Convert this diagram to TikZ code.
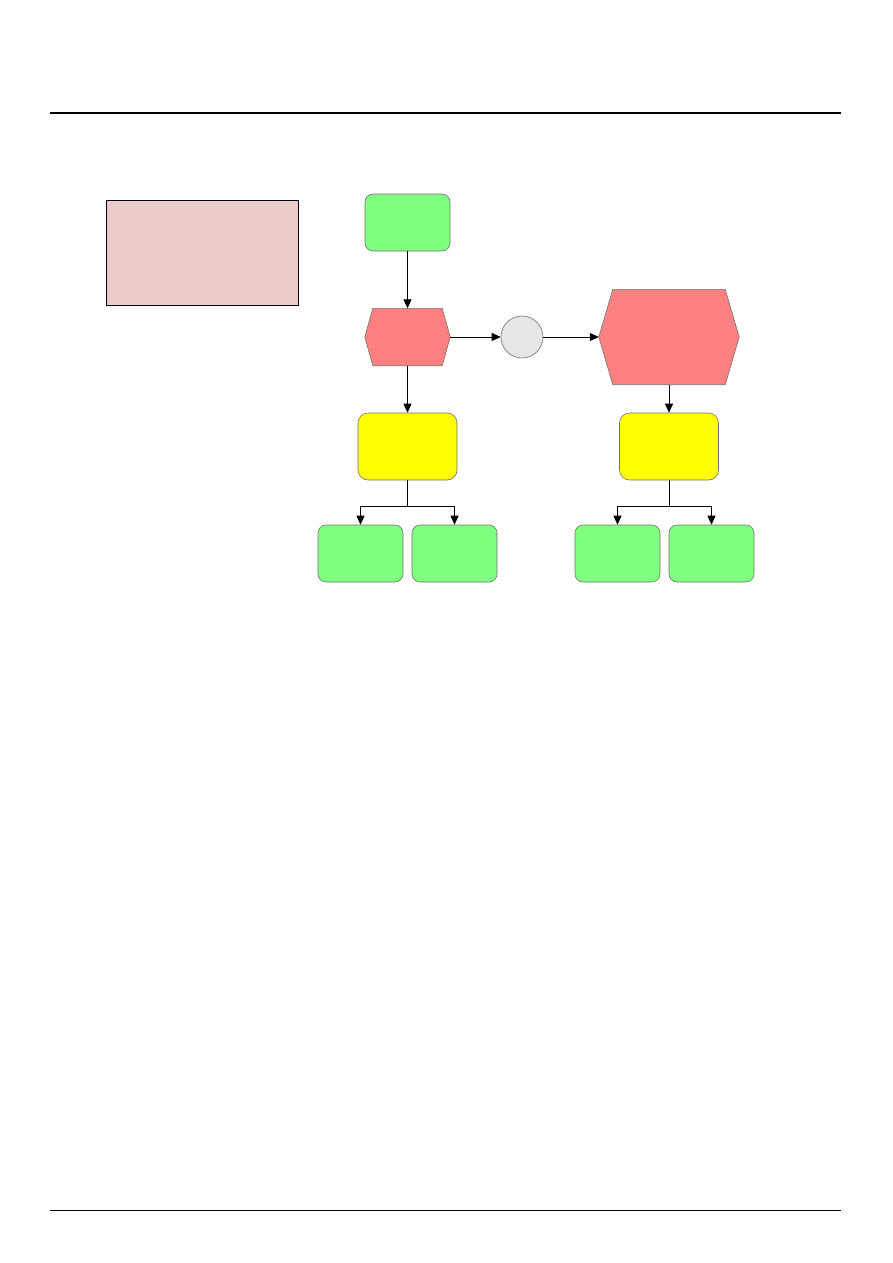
\documentclass[tikz,border=0pt]{standalone}
\usetikzlibrary{arrows.meta}
\definecolor{gfill}{HTML}{80FF80}
\definecolor{yfill}{HTML}{FFFF00}
\definecolor{rfill}{HTML}{FF8080}
\definecolor{cfill}{HTML}{E6E6E6}
\definecolor{pfill}{HTML}{ECCCCA}
\definecolor{edge}{HTML}{707070}
\begin{document}
\begin{tikzpicture}[x=1pt,y=-1pt,
  box/.style={draw=edge,line width=0.6pt,rounded corners=8pt,inner sep=0pt,minimum width=85pt,minimum height=57pt,fill=gfill},
  ybox/.style={box,fill=yfill,minimum width=99pt,minimum height=67pt,rounded corners=10pt},
  anchorbox/.style={inner sep=0pt,draw=none},
  hexdraw/.style={draw=edge,line width=0.6pt,fill=rfill},
  conn/.style={line width=0.8pt,-{Triangle[length=9pt,width=8pt]}},
  plain/.style={line width=0.8pt}]
\useasboundingbox (0,0) rectangle (893,1263);
% header/footer rules
\coordinate (tl) at (50,113); \coordinate (tr) at (841,113);
\coordinate (bl) at (50,1210); \coordinate (br) at (841,1210);
\draw[line width=2pt] (tl) -- (tr);
\draw[line width=1pt] (bl) -- (br);
% pink box
\node[draw=black,line width=1pt,fill=pfill,minimum width=192pt,minimum height=105pt,inner sep=0pt] (pink) at (202,252.5) {};
% top green
\node[box] (top) at (407.5,222.5) {};
% small hexagon
\node[anchorbox,minimum width=85pt,minimum height=57pt] (hexa) at (407.5,337) {};
\draw[hexdraw] (hexa.west) -- ([xshift=8pt]hexa.north west) -- ([xshift=-8pt]hexa.north east) -- (hexa.east) -- ([xshift=-8pt]hexa.south east) -- ([xshift=8pt]hexa.south west) -- cycle;
% circle
\node[circle,draw=edge,line width=0.6pt,fill=cfill,minimum size=42pt,inner sep=0pt] (circ) at (522,337) {};
% big hexagon
\node[anchorbox,minimum width=140pt,minimum height=95pt] (hexb) at (669,337) {};
\draw[hexdraw] (hexb.west) -- ([xshift=14pt]hexb.north west) -- ([xshift=-14pt]hexb.north east) -- (hexb.east) -- ([xshift=-14pt]hexb.south east) -- ([xshift=14pt]hexb.south west) -- cycle;
% yellow boxes
\node[ybox] (yl) at (407.5,446.5) {};
\node[ybox] (yr) at (669,446.5) {};
% bottom greens
\node[box] (g1) at (360.5,553.5) {};
\node[box] (g2) at (454.5,553.5) {};
\node[box] (g3) at (617.5,553.5) {};
\node[box] (g4) at (711.5,553.5) {};
% connectors
\draw[conn] (top.south) -- (hexa.north);
\draw[conn] (hexa.east) -- (circ.west);
\draw[conn] (circ.east) -- (hexb.west);
\draw[conn] (hexa.south) -- (yl.north);
\draw[conn] (hexb.south) -- (yr.north);
\coordinate (jl) at (407.5,506);
\coordinate (jr) at (669,506);
\draw[plain] (yl.south) -- (jl);
\draw[plain] (yr.south) -- (jr);
\draw[conn] (jl) -| (g1.north);
\draw[conn] (jl) -| (g2.north);
\draw[conn] (jr) -| (g3.north);
\draw[conn] (jr) -| (g4.north);
\end{tikzpicture}
\end{document}
